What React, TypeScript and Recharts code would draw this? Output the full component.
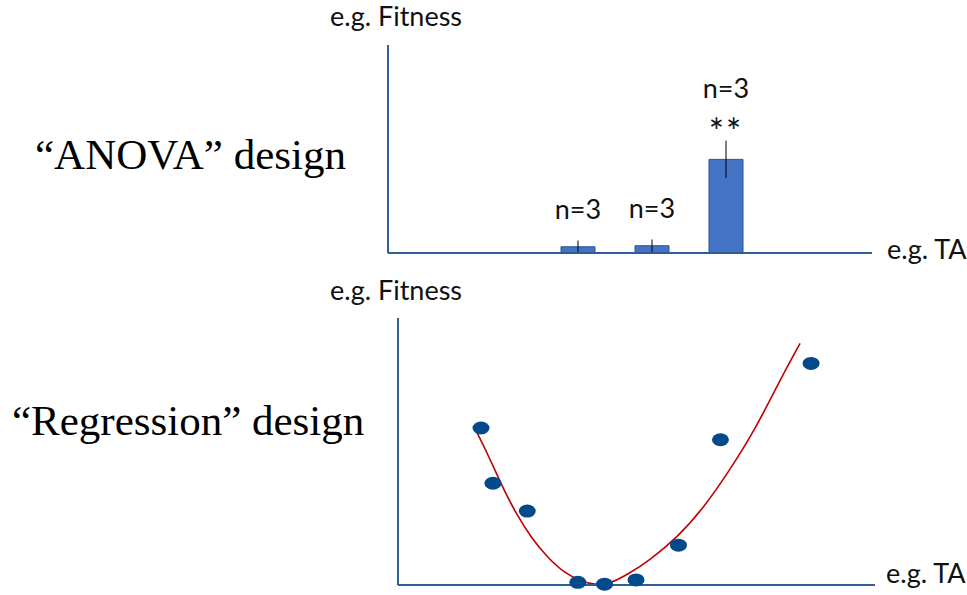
import React from 'react';
import {
  BarChart, Bar, XAxis, YAxis, ErrorBar, LabelList,
  ComposedChart, Line, Scatter,
} from 'recharts';

// top panel: three TA levels
const levels = ['TA1', 'TA2', 'TA3'];
const fitnessMeans = [0.3, 0.35, 4.5];
const fitnessErr = [0.3, 0.3, 0.9];
const sampleSizes = ['n=3', 'n=3', 'n=3'];
const signif = ['', '', '**'];

// bottom panel: observed points and fitted curve
const obsTA = [1.74, 1.99, 2.71, 3.77, 4.33, 4.99, 5.88, 6.76, 8.66];
const obsFitness = [5.88, 3.81, 2.77, 0.1, 0.03, 0.19, 1.49, 5.44, 8.3];
const fitTA = [1.61, 1.89, 2.17, 2.45, 2.8, 3.15, 3.5, 3.85, 4.17, 4.44, 4.86, 5.28, 5.84, 6.4, 6.96, 7.52, 8.01, 8.43];
const fitFitness = [5.87, 4.87, 3.75, 2.75, 1.75, 1.0, 0.44, 0.12, 0, 0.04, 0.44, 0.94, 1.75, 2.87, 4.31, 5.93, 7.68, 9.05];

const AXIS = '#2f5c9a';
const SANS = 'Lato, "Open Sans", sans-serif';
const SERIF = '"Liberation Serif", "DejaVu Serif", serif';

const barData = levels.map((t, i) => ({
  ta: t, fit: fitnessMeans[i], err: fitnessErr[i], n: sampleSizes[i], sig: signif[i],
}));
const points = obsTA.map((x, i) => ({ ta: x, fit: obsFitness[i] }));
const curve = fitTA.map((x, i) => ({ ta: x, fit: fitFitness[i] }));

const BarLabel = (props: any) => {
  const { x, y, width, index } = props;
  const cx = x + width / 2;
  const sig = signif[index];
  return (
    <g>
      {sig && (
        <text x={cx} y={y - 14} textAnchor="middle" fontFamily={SANS} fontSize={36} letterSpacing={2} fill="#111">{sig}</text>
      )}
      <text x={cx} y={sig ? y - 61 : y - 28} textAnchor="middle" fontFamily={SANS} fontSize={27} fill="#111">
        {sampleSizes[index]}
      </text>
    </g>
  );
};

const Dot = (props: any) => (
  <ellipse cx={props.cx} cy={props.cy} rx={8.5} ry={6.5} fill="#034a8c" />
);

export default function App() {
  return (
    <div style={{ position: 'absolute', left: 0, top: 0, width: 967, height: 595, background: '#fff' }}>
      <div style={{ position: 'absolute', left: 0, top: 0 }}>
        <BarChart width={967} height={280} data={barData} margin={{ top: 45, right: 95, bottom: 26, left: 387 }}>
          <XAxis dataKey="ta" height={1} tick={false} tickLine={false} padding={{ left: 153, right: 109 }}
            axisLine={{ stroke: AXIS, strokeWidth: 2 }} />
          <YAxis type="number" domain={[0, 10]} width={1} tick={false} tickLine={false}
            axisLine={{ stroke: AXIS, strokeWidth: 2 }} />
          <Bar dataKey="fit" barSize={34} fill="#4472c4" stroke="#2f528f" strokeWidth={1} isAnimationActive={false}>
            <ErrorBar dataKey="err" width={0} stroke="#000" strokeWidth={1} direction="y" />
            <LabelList dataKey="n" content={BarLabel} />
          </Bar>
        </BarChart>
      </div>
      <div style={{ position: 'absolute', left: 0, top: 300 }}>
        <ComposedChart width={967} height={295} margin={{ top: 18, right: 92, bottom: 9, left: 397 }}>
          <XAxis dataKey="ta" type="number" domain={[0, 10]} height={1} tick={false} tickLine={false}
            axisLine={{ stroke: AXIS, strokeWidth: 2 }} />
          <YAxis dataKey="fit" type="number" domain={[0, 10]} width={1} tick={false} tickLine={false}
            axisLine={{ stroke: AXIS, strokeWidth: 2 }} />
          <Line data={curve} dataKey="fit" type="basis" dot={false} stroke="#c00000" strokeWidth={1.6}
            isAnimationActive={false} />
          <Scatter data={points} dataKey="fit" shape={Dot} isAnimationActive={false} />
        </ComposedChart>
      </div>
      <svg width={967} height={595} style={{ position: 'absolute', left: 0, top: 0, pointerEvents: 'none' }}>
        <text x={330} y={26} fontFamily={SANS} fontSize={27} fill="#111">e.g. Fitness</text>
        <text x={887} y={259} fontFamily={SANS} fontSize={27} fill="#111">e.g. TA</text>
        <text x={330} y={300} fontFamily={SANS} fontSize={27} fill="#111">e.g. Fitness</text>
        <text x={886} y={583} fontFamily={SANS} fontSize={27} fill="#111">e.g. TA</text>
        <text x={35} y={169} fontFamily={SERIF} fontSize={43} fill="#000">“ANOVA” design</text>
        <text x={12} y={435} fontFamily={SERIF} fontSize={43} fill="#000">“Regression” design</text>
      </svg>
    </div>
  );
}
